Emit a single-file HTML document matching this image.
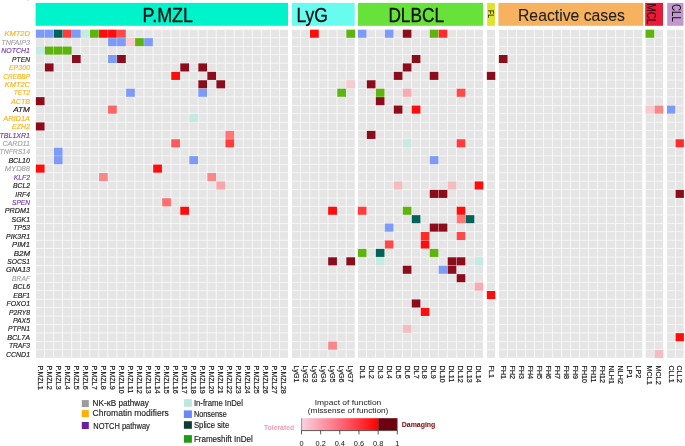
<!DOCTYPE html><html><head><meta charset="utf-8"><style>html,body{margin:0;padding:0;background:#fff;}svg{display:block;will-change:transform;}text{font-family:"Liberation Sans",sans-serif;}</style></head><body>
<svg width="685" height="446" viewBox="0 0 685 446">
<rect x="0" y="0" width="685" height="446" fill="#fff"/>
<defs><filter id="bl" x="-2%" y="-2%" width="104%" height="104%"><feGaussianBlur stdDeviation="0.2"/></filter></defs>
<g filter="url(#bl)">
<rect x="35.60" y="2.90" width="252.40" height="22.90" fill="#03f4cb"/>
<rect x="292.00" y="2.90" width="62.70" height="22.90" fill="#68fcf0"/>
<rect x="358.00" y="2.90" width="125.10" height="22.90" fill="#66e23a"/>
<rect x="487.10" y="2.90" width="7.80" height="22.90" fill="#dde22c"/>
<rect x="498.40" y="2.90" width="144.80" height="22.90" fill="#f6b25f"/>
<rect x="645.20" y="2.90" width="17.80" height="22.90" fill="#e61a38"/>
<rect x="667.20" y="2.90" width="16.30" height="22.90" fill="#c197cd"/>
<rect x="36.00" y="29.80" width="252.00" height="328.04" fill="#e5e5e5"/>
<rect x="44.23" y="29.80" width="0.80" height="328.04" fill="#fbfbfb"/>
<rect x="53.26" y="29.80" width="0.80" height="328.04" fill="#fbfbfb"/>
<rect x="62.29" y="29.80" width="0.80" height="328.04" fill="#fbfbfb"/>
<rect x="71.31" y="29.80" width="0.80" height="328.04" fill="#fbfbfb"/>
<rect x="80.34" y="29.80" width="0.80" height="328.04" fill="#fbfbfb"/>
<rect x="89.37" y="29.80" width="0.80" height="328.04" fill="#fbfbfb"/>
<rect x="98.40" y="29.80" width="0.80" height="328.04" fill="#fbfbfb"/>
<rect x="107.43" y="29.80" width="0.80" height="328.04" fill="#fbfbfb"/>
<rect x="116.46" y="29.80" width="0.80" height="328.04" fill="#fbfbfb"/>
<rect x="125.49" y="29.80" width="0.80" height="328.04" fill="#fbfbfb"/>
<rect x="134.51" y="29.80" width="0.80" height="328.04" fill="#fbfbfb"/>
<rect x="143.54" y="29.80" width="0.80" height="328.04" fill="#fbfbfb"/>
<rect x="152.57" y="29.80" width="0.80" height="328.04" fill="#fbfbfb"/>
<rect x="161.60" y="29.80" width="0.80" height="328.04" fill="#fbfbfb"/>
<rect x="170.63" y="29.80" width="0.80" height="328.04" fill="#fbfbfb"/>
<rect x="179.66" y="29.80" width="0.80" height="328.04" fill="#fbfbfb"/>
<rect x="188.69" y="29.80" width="0.80" height="328.04" fill="#fbfbfb"/>
<rect x="197.71" y="29.80" width="0.80" height="328.04" fill="#fbfbfb"/>
<rect x="206.74" y="29.80" width="0.80" height="328.04" fill="#fbfbfb"/>
<rect x="215.77" y="29.80" width="0.80" height="328.04" fill="#fbfbfb"/>
<rect x="224.80" y="29.80" width="0.80" height="328.04" fill="#fbfbfb"/>
<rect x="233.83" y="29.80" width="0.80" height="328.04" fill="#fbfbfb"/>
<rect x="242.86" y="29.80" width="0.80" height="328.04" fill="#fbfbfb"/>
<rect x="251.89" y="29.80" width="0.80" height="328.04" fill="#fbfbfb"/>
<rect x="260.91" y="29.80" width="0.80" height="328.04" fill="#fbfbfb"/>
<rect x="269.94" y="29.80" width="0.80" height="328.04" fill="#fbfbfb"/>
<rect x="278.97" y="29.80" width="0.80" height="328.04" fill="#fbfbfb"/>
<rect x="36.00" y="37.50" width="252.00" height="0.73" fill="#fbfbfb"/>
<rect x="36.00" y="45.93" width="252.00" height="0.73" fill="#fbfbfb"/>
<rect x="36.00" y="54.36" width="252.00" height="0.73" fill="#fbfbfb"/>
<rect x="36.00" y="62.79" width="252.00" height="0.73" fill="#fbfbfb"/>
<rect x="36.00" y="71.22" width="252.00" height="0.73" fill="#fbfbfb"/>
<rect x="36.00" y="79.65" width="252.00" height="0.73" fill="#fbfbfb"/>
<rect x="36.00" y="88.08" width="252.00" height="0.73" fill="#fbfbfb"/>
<rect x="36.00" y="96.51" width="252.00" height="0.73" fill="#fbfbfb"/>
<rect x="36.00" y="104.94" width="252.00" height="0.73" fill="#fbfbfb"/>
<rect x="36.00" y="113.37" width="252.00" height="0.73" fill="#fbfbfb"/>
<rect x="36.00" y="121.80" width="252.00" height="0.73" fill="#fbfbfb"/>
<rect x="36.00" y="130.23" width="252.00" height="0.73" fill="#fbfbfb"/>
<rect x="36.00" y="138.66" width="252.00" height="0.73" fill="#fbfbfb"/>
<rect x="36.00" y="147.09" width="252.00" height="0.73" fill="#fbfbfb"/>
<rect x="36.00" y="155.52" width="252.00" height="0.73" fill="#fbfbfb"/>
<rect x="36.00" y="163.95" width="252.00" height="0.73" fill="#fbfbfb"/>
<rect x="36.00" y="172.38" width="252.00" height="0.73" fill="#fbfbfb"/>
<rect x="36.00" y="180.81" width="252.00" height="0.73" fill="#fbfbfb"/>
<rect x="36.00" y="189.24" width="252.00" height="0.73" fill="#fbfbfb"/>
<rect x="36.00" y="197.67" width="252.00" height="0.73" fill="#fbfbfb"/>
<rect x="36.00" y="206.10" width="252.00" height="0.73" fill="#fbfbfb"/>
<rect x="36.00" y="214.53" width="252.00" height="0.73" fill="#fbfbfb"/>
<rect x="36.00" y="222.96" width="252.00" height="0.73" fill="#fbfbfb"/>
<rect x="36.00" y="231.39" width="252.00" height="0.73" fill="#fbfbfb"/>
<rect x="36.00" y="239.82" width="252.00" height="0.73" fill="#fbfbfb"/>
<rect x="36.00" y="248.25" width="252.00" height="0.73" fill="#fbfbfb"/>
<rect x="36.00" y="256.68" width="252.00" height="0.73" fill="#fbfbfb"/>
<rect x="36.00" y="265.11" width="252.00" height="0.73" fill="#fbfbfb"/>
<rect x="36.00" y="273.54" width="252.00" height="0.73" fill="#fbfbfb"/>
<rect x="36.00" y="281.97" width="252.00" height="0.73" fill="#fbfbfb"/>
<rect x="36.00" y="290.40" width="252.00" height="0.73" fill="#fbfbfb"/>
<rect x="36.00" y="298.83" width="252.00" height="0.73" fill="#fbfbfb"/>
<rect x="36.00" y="307.26" width="252.00" height="0.73" fill="#fbfbfb"/>
<rect x="36.00" y="315.69" width="252.00" height="0.73" fill="#fbfbfb"/>
<rect x="36.00" y="324.12" width="252.00" height="0.73" fill="#fbfbfb"/>
<rect x="36.00" y="332.55" width="252.00" height="0.73" fill="#fbfbfb"/>
<rect x="36.00" y="340.98" width="252.00" height="0.73" fill="#fbfbfb"/>
<rect x="36.00" y="349.41" width="252.00" height="0.73" fill="#fbfbfb"/>
<rect x="292.00" y="29.80" width="62.80" height="328.04" fill="#e5e5e5"/>
<rect x="300.29" y="29.80" width="0.80" height="328.04" fill="#fbfbfb"/>
<rect x="309.37" y="29.80" width="0.80" height="328.04" fill="#fbfbfb"/>
<rect x="318.46" y="29.80" width="0.80" height="328.04" fill="#fbfbfb"/>
<rect x="327.54" y="29.80" width="0.80" height="328.04" fill="#fbfbfb"/>
<rect x="336.63" y="29.80" width="0.80" height="328.04" fill="#fbfbfb"/>
<rect x="345.71" y="29.80" width="0.80" height="328.04" fill="#fbfbfb"/>
<rect x="292.00" y="37.50" width="62.80" height="0.73" fill="#fbfbfb"/>
<rect x="292.00" y="45.93" width="62.80" height="0.73" fill="#fbfbfb"/>
<rect x="292.00" y="54.36" width="62.80" height="0.73" fill="#fbfbfb"/>
<rect x="292.00" y="62.79" width="62.80" height="0.73" fill="#fbfbfb"/>
<rect x="292.00" y="71.22" width="62.80" height="0.73" fill="#fbfbfb"/>
<rect x="292.00" y="79.65" width="62.80" height="0.73" fill="#fbfbfb"/>
<rect x="292.00" y="88.08" width="62.80" height="0.73" fill="#fbfbfb"/>
<rect x="292.00" y="96.51" width="62.80" height="0.73" fill="#fbfbfb"/>
<rect x="292.00" y="104.94" width="62.80" height="0.73" fill="#fbfbfb"/>
<rect x="292.00" y="113.37" width="62.80" height="0.73" fill="#fbfbfb"/>
<rect x="292.00" y="121.80" width="62.80" height="0.73" fill="#fbfbfb"/>
<rect x="292.00" y="130.23" width="62.80" height="0.73" fill="#fbfbfb"/>
<rect x="292.00" y="138.66" width="62.80" height="0.73" fill="#fbfbfb"/>
<rect x="292.00" y="147.09" width="62.80" height="0.73" fill="#fbfbfb"/>
<rect x="292.00" y="155.52" width="62.80" height="0.73" fill="#fbfbfb"/>
<rect x="292.00" y="163.95" width="62.80" height="0.73" fill="#fbfbfb"/>
<rect x="292.00" y="172.38" width="62.80" height="0.73" fill="#fbfbfb"/>
<rect x="292.00" y="180.81" width="62.80" height="0.73" fill="#fbfbfb"/>
<rect x="292.00" y="189.24" width="62.80" height="0.73" fill="#fbfbfb"/>
<rect x="292.00" y="197.67" width="62.80" height="0.73" fill="#fbfbfb"/>
<rect x="292.00" y="206.10" width="62.80" height="0.73" fill="#fbfbfb"/>
<rect x="292.00" y="214.53" width="62.80" height="0.73" fill="#fbfbfb"/>
<rect x="292.00" y="222.96" width="62.80" height="0.73" fill="#fbfbfb"/>
<rect x="292.00" y="231.39" width="62.80" height="0.73" fill="#fbfbfb"/>
<rect x="292.00" y="239.82" width="62.80" height="0.73" fill="#fbfbfb"/>
<rect x="292.00" y="248.25" width="62.80" height="0.73" fill="#fbfbfb"/>
<rect x="292.00" y="256.68" width="62.80" height="0.73" fill="#fbfbfb"/>
<rect x="292.00" y="265.11" width="62.80" height="0.73" fill="#fbfbfb"/>
<rect x="292.00" y="273.54" width="62.80" height="0.73" fill="#fbfbfb"/>
<rect x="292.00" y="281.97" width="62.80" height="0.73" fill="#fbfbfb"/>
<rect x="292.00" y="290.40" width="62.80" height="0.73" fill="#fbfbfb"/>
<rect x="292.00" y="298.83" width="62.80" height="0.73" fill="#fbfbfb"/>
<rect x="292.00" y="307.26" width="62.80" height="0.73" fill="#fbfbfb"/>
<rect x="292.00" y="315.69" width="62.80" height="0.73" fill="#fbfbfb"/>
<rect x="292.00" y="324.12" width="62.80" height="0.73" fill="#fbfbfb"/>
<rect x="292.00" y="332.55" width="62.80" height="0.73" fill="#fbfbfb"/>
<rect x="292.00" y="340.98" width="62.80" height="0.73" fill="#fbfbfb"/>
<rect x="292.00" y="349.41" width="62.80" height="0.73" fill="#fbfbfb"/>
<rect x="358.00" y="29.80" width="125.00" height="328.04" fill="#e5e5e5"/>
<rect x="366.19" y="29.80" width="0.80" height="328.04" fill="#fbfbfb"/>
<rect x="375.17" y="29.80" width="0.80" height="328.04" fill="#fbfbfb"/>
<rect x="384.16" y="29.80" width="0.80" height="328.04" fill="#fbfbfb"/>
<rect x="393.14" y="29.80" width="0.80" height="328.04" fill="#fbfbfb"/>
<rect x="402.13" y="29.80" width="0.80" height="328.04" fill="#fbfbfb"/>
<rect x="411.11" y="29.80" width="0.80" height="328.04" fill="#fbfbfb"/>
<rect x="420.10" y="29.80" width="0.80" height="328.04" fill="#fbfbfb"/>
<rect x="429.09" y="29.80" width="0.80" height="328.04" fill="#fbfbfb"/>
<rect x="438.07" y="29.80" width="0.80" height="328.04" fill="#fbfbfb"/>
<rect x="447.06" y="29.80" width="0.80" height="328.04" fill="#fbfbfb"/>
<rect x="456.04" y="29.80" width="0.80" height="328.04" fill="#fbfbfb"/>
<rect x="465.03" y="29.80" width="0.80" height="328.04" fill="#fbfbfb"/>
<rect x="474.01" y="29.80" width="0.80" height="328.04" fill="#fbfbfb"/>
<rect x="358.00" y="37.50" width="125.00" height="0.73" fill="#fbfbfb"/>
<rect x="358.00" y="45.93" width="125.00" height="0.73" fill="#fbfbfb"/>
<rect x="358.00" y="54.36" width="125.00" height="0.73" fill="#fbfbfb"/>
<rect x="358.00" y="62.79" width="125.00" height="0.73" fill="#fbfbfb"/>
<rect x="358.00" y="71.22" width="125.00" height="0.73" fill="#fbfbfb"/>
<rect x="358.00" y="79.65" width="125.00" height="0.73" fill="#fbfbfb"/>
<rect x="358.00" y="88.08" width="125.00" height="0.73" fill="#fbfbfb"/>
<rect x="358.00" y="96.51" width="125.00" height="0.73" fill="#fbfbfb"/>
<rect x="358.00" y="104.94" width="125.00" height="0.73" fill="#fbfbfb"/>
<rect x="358.00" y="113.37" width="125.00" height="0.73" fill="#fbfbfb"/>
<rect x="358.00" y="121.80" width="125.00" height="0.73" fill="#fbfbfb"/>
<rect x="358.00" y="130.23" width="125.00" height="0.73" fill="#fbfbfb"/>
<rect x="358.00" y="138.66" width="125.00" height="0.73" fill="#fbfbfb"/>
<rect x="358.00" y="147.09" width="125.00" height="0.73" fill="#fbfbfb"/>
<rect x="358.00" y="155.52" width="125.00" height="0.73" fill="#fbfbfb"/>
<rect x="358.00" y="163.95" width="125.00" height="0.73" fill="#fbfbfb"/>
<rect x="358.00" y="172.38" width="125.00" height="0.73" fill="#fbfbfb"/>
<rect x="358.00" y="180.81" width="125.00" height="0.73" fill="#fbfbfb"/>
<rect x="358.00" y="189.24" width="125.00" height="0.73" fill="#fbfbfb"/>
<rect x="358.00" y="197.67" width="125.00" height="0.73" fill="#fbfbfb"/>
<rect x="358.00" y="206.10" width="125.00" height="0.73" fill="#fbfbfb"/>
<rect x="358.00" y="214.53" width="125.00" height="0.73" fill="#fbfbfb"/>
<rect x="358.00" y="222.96" width="125.00" height="0.73" fill="#fbfbfb"/>
<rect x="358.00" y="231.39" width="125.00" height="0.73" fill="#fbfbfb"/>
<rect x="358.00" y="239.82" width="125.00" height="0.73" fill="#fbfbfb"/>
<rect x="358.00" y="248.25" width="125.00" height="0.73" fill="#fbfbfb"/>
<rect x="358.00" y="256.68" width="125.00" height="0.73" fill="#fbfbfb"/>
<rect x="358.00" y="265.11" width="125.00" height="0.73" fill="#fbfbfb"/>
<rect x="358.00" y="273.54" width="125.00" height="0.73" fill="#fbfbfb"/>
<rect x="358.00" y="281.97" width="125.00" height="0.73" fill="#fbfbfb"/>
<rect x="358.00" y="290.40" width="125.00" height="0.73" fill="#fbfbfb"/>
<rect x="358.00" y="298.83" width="125.00" height="0.73" fill="#fbfbfb"/>
<rect x="358.00" y="307.26" width="125.00" height="0.73" fill="#fbfbfb"/>
<rect x="358.00" y="315.69" width="125.00" height="0.73" fill="#fbfbfb"/>
<rect x="358.00" y="324.12" width="125.00" height="0.73" fill="#fbfbfb"/>
<rect x="358.00" y="332.55" width="125.00" height="0.73" fill="#fbfbfb"/>
<rect x="358.00" y="340.98" width="125.00" height="0.73" fill="#fbfbfb"/>
<rect x="358.00" y="349.41" width="125.00" height="0.73" fill="#fbfbfb"/>
<rect x="487.00" y="29.80" width="8.00" height="328.04" fill="#e5e5e5"/>
<rect x="487.00" y="37.50" width="8.00" height="0.73" fill="#fbfbfb"/>
<rect x="487.00" y="45.93" width="8.00" height="0.73" fill="#fbfbfb"/>
<rect x="487.00" y="54.36" width="8.00" height="0.73" fill="#fbfbfb"/>
<rect x="487.00" y="62.79" width="8.00" height="0.73" fill="#fbfbfb"/>
<rect x="487.00" y="71.22" width="8.00" height="0.73" fill="#fbfbfb"/>
<rect x="487.00" y="79.65" width="8.00" height="0.73" fill="#fbfbfb"/>
<rect x="487.00" y="88.08" width="8.00" height="0.73" fill="#fbfbfb"/>
<rect x="487.00" y="96.51" width="8.00" height="0.73" fill="#fbfbfb"/>
<rect x="487.00" y="104.94" width="8.00" height="0.73" fill="#fbfbfb"/>
<rect x="487.00" y="113.37" width="8.00" height="0.73" fill="#fbfbfb"/>
<rect x="487.00" y="121.80" width="8.00" height="0.73" fill="#fbfbfb"/>
<rect x="487.00" y="130.23" width="8.00" height="0.73" fill="#fbfbfb"/>
<rect x="487.00" y="138.66" width="8.00" height="0.73" fill="#fbfbfb"/>
<rect x="487.00" y="147.09" width="8.00" height="0.73" fill="#fbfbfb"/>
<rect x="487.00" y="155.52" width="8.00" height="0.73" fill="#fbfbfb"/>
<rect x="487.00" y="163.95" width="8.00" height="0.73" fill="#fbfbfb"/>
<rect x="487.00" y="172.38" width="8.00" height="0.73" fill="#fbfbfb"/>
<rect x="487.00" y="180.81" width="8.00" height="0.73" fill="#fbfbfb"/>
<rect x="487.00" y="189.24" width="8.00" height="0.73" fill="#fbfbfb"/>
<rect x="487.00" y="197.67" width="8.00" height="0.73" fill="#fbfbfb"/>
<rect x="487.00" y="206.10" width="8.00" height="0.73" fill="#fbfbfb"/>
<rect x="487.00" y="214.53" width="8.00" height="0.73" fill="#fbfbfb"/>
<rect x="487.00" y="222.96" width="8.00" height="0.73" fill="#fbfbfb"/>
<rect x="487.00" y="231.39" width="8.00" height="0.73" fill="#fbfbfb"/>
<rect x="487.00" y="239.82" width="8.00" height="0.73" fill="#fbfbfb"/>
<rect x="487.00" y="248.25" width="8.00" height="0.73" fill="#fbfbfb"/>
<rect x="487.00" y="256.68" width="8.00" height="0.73" fill="#fbfbfb"/>
<rect x="487.00" y="265.11" width="8.00" height="0.73" fill="#fbfbfb"/>
<rect x="487.00" y="273.54" width="8.00" height="0.73" fill="#fbfbfb"/>
<rect x="487.00" y="281.97" width="8.00" height="0.73" fill="#fbfbfb"/>
<rect x="487.00" y="290.40" width="8.00" height="0.73" fill="#fbfbfb"/>
<rect x="487.00" y="298.83" width="8.00" height="0.73" fill="#fbfbfb"/>
<rect x="487.00" y="307.26" width="8.00" height="0.73" fill="#fbfbfb"/>
<rect x="487.00" y="315.69" width="8.00" height="0.73" fill="#fbfbfb"/>
<rect x="487.00" y="324.12" width="8.00" height="0.73" fill="#fbfbfb"/>
<rect x="487.00" y="332.55" width="8.00" height="0.73" fill="#fbfbfb"/>
<rect x="487.00" y="340.98" width="8.00" height="0.73" fill="#fbfbfb"/>
<rect x="487.00" y="349.41" width="8.00" height="0.73" fill="#fbfbfb"/>
<rect x="499.00" y="29.80" width="143.30" height="328.04" fill="#e5e5e5"/>
<rect x="507.21" y="29.80" width="0.80" height="328.04" fill="#fbfbfb"/>
<rect x="516.21" y="29.80" width="0.80" height="328.04" fill="#fbfbfb"/>
<rect x="525.22" y="29.80" width="0.80" height="328.04" fill="#fbfbfb"/>
<rect x="534.22" y="29.80" width="0.80" height="328.04" fill="#fbfbfb"/>
<rect x="543.23" y="29.80" width="0.80" height="328.04" fill="#fbfbfb"/>
<rect x="552.24" y="29.80" width="0.80" height="328.04" fill="#fbfbfb"/>
<rect x="561.24" y="29.80" width="0.80" height="328.04" fill="#fbfbfb"/>
<rect x="570.25" y="29.80" width="0.80" height="328.04" fill="#fbfbfb"/>
<rect x="579.26" y="29.80" width="0.80" height="328.04" fill="#fbfbfb"/>
<rect x="588.26" y="29.80" width="0.80" height="328.04" fill="#fbfbfb"/>
<rect x="597.27" y="29.80" width="0.80" height="328.04" fill="#fbfbfb"/>
<rect x="606.27" y="29.80" width="0.80" height="328.04" fill="#fbfbfb"/>
<rect x="615.28" y="29.80" width="0.80" height="328.04" fill="#fbfbfb"/>
<rect x="624.29" y="29.80" width="0.80" height="328.04" fill="#fbfbfb"/>
<rect x="633.29" y="29.80" width="0.80" height="328.04" fill="#fbfbfb"/>
<rect x="499.00" y="37.50" width="143.30" height="0.73" fill="#fbfbfb"/>
<rect x="499.00" y="45.93" width="143.30" height="0.73" fill="#fbfbfb"/>
<rect x="499.00" y="54.36" width="143.30" height="0.73" fill="#fbfbfb"/>
<rect x="499.00" y="62.79" width="143.30" height="0.73" fill="#fbfbfb"/>
<rect x="499.00" y="71.22" width="143.30" height="0.73" fill="#fbfbfb"/>
<rect x="499.00" y="79.65" width="143.30" height="0.73" fill="#fbfbfb"/>
<rect x="499.00" y="88.08" width="143.30" height="0.73" fill="#fbfbfb"/>
<rect x="499.00" y="96.51" width="143.30" height="0.73" fill="#fbfbfb"/>
<rect x="499.00" y="104.94" width="143.30" height="0.73" fill="#fbfbfb"/>
<rect x="499.00" y="113.37" width="143.30" height="0.73" fill="#fbfbfb"/>
<rect x="499.00" y="121.80" width="143.30" height="0.73" fill="#fbfbfb"/>
<rect x="499.00" y="130.23" width="143.30" height="0.73" fill="#fbfbfb"/>
<rect x="499.00" y="138.66" width="143.30" height="0.73" fill="#fbfbfb"/>
<rect x="499.00" y="147.09" width="143.30" height="0.73" fill="#fbfbfb"/>
<rect x="499.00" y="155.52" width="143.30" height="0.73" fill="#fbfbfb"/>
<rect x="499.00" y="163.95" width="143.30" height="0.73" fill="#fbfbfb"/>
<rect x="499.00" y="172.38" width="143.30" height="0.73" fill="#fbfbfb"/>
<rect x="499.00" y="180.81" width="143.30" height="0.73" fill="#fbfbfb"/>
<rect x="499.00" y="189.24" width="143.30" height="0.73" fill="#fbfbfb"/>
<rect x="499.00" y="197.67" width="143.30" height="0.73" fill="#fbfbfb"/>
<rect x="499.00" y="206.10" width="143.30" height="0.73" fill="#fbfbfb"/>
<rect x="499.00" y="214.53" width="143.30" height="0.73" fill="#fbfbfb"/>
<rect x="499.00" y="222.96" width="143.30" height="0.73" fill="#fbfbfb"/>
<rect x="499.00" y="231.39" width="143.30" height="0.73" fill="#fbfbfb"/>
<rect x="499.00" y="239.82" width="143.30" height="0.73" fill="#fbfbfb"/>
<rect x="499.00" y="248.25" width="143.30" height="0.73" fill="#fbfbfb"/>
<rect x="499.00" y="256.68" width="143.30" height="0.73" fill="#fbfbfb"/>
<rect x="499.00" y="265.11" width="143.30" height="0.73" fill="#fbfbfb"/>
<rect x="499.00" y="273.54" width="143.30" height="0.73" fill="#fbfbfb"/>
<rect x="499.00" y="281.97" width="143.30" height="0.73" fill="#fbfbfb"/>
<rect x="499.00" y="290.40" width="143.30" height="0.73" fill="#fbfbfb"/>
<rect x="499.00" y="298.83" width="143.30" height="0.73" fill="#fbfbfb"/>
<rect x="499.00" y="307.26" width="143.30" height="0.73" fill="#fbfbfb"/>
<rect x="499.00" y="315.69" width="143.30" height="0.73" fill="#fbfbfb"/>
<rect x="499.00" y="324.12" width="143.30" height="0.73" fill="#fbfbfb"/>
<rect x="499.00" y="332.55" width="143.30" height="0.73" fill="#fbfbfb"/>
<rect x="499.00" y="340.98" width="143.30" height="0.73" fill="#fbfbfb"/>
<rect x="499.00" y="349.41" width="143.30" height="0.73" fill="#fbfbfb"/>
<rect x="645.70" y="29.80" width="17.30" height="328.04" fill="#e5e5e5"/>
<rect x="653.95" y="29.80" width="0.80" height="328.04" fill="#fbfbfb"/>
<rect x="645.70" y="37.50" width="17.30" height="0.73" fill="#fbfbfb"/>
<rect x="645.70" y="45.93" width="17.30" height="0.73" fill="#fbfbfb"/>
<rect x="645.70" y="54.36" width="17.30" height="0.73" fill="#fbfbfb"/>
<rect x="645.70" y="62.79" width="17.30" height="0.73" fill="#fbfbfb"/>
<rect x="645.70" y="71.22" width="17.30" height="0.73" fill="#fbfbfb"/>
<rect x="645.70" y="79.65" width="17.30" height="0.73" fill="#fbfbfb"/>
<rect x="645.70" y="88.08" width="17.30" height="0.73" fill="#fbfbfb"/>
<rect x="645.70" y="96.51" width="17.30" height="0.73" fill="#fbfbfb"/>
<rect x="645.70" y="104.94" width="17.30" height="0.73" fill="#fbfbfb"/>
<rect x="645.70" y="113.37" width="17.30" height="0.73" fill="#fbfbfb"/>
<rect x="645.70" y="121.80" width="17.30" height="0.73" fill="#fbfbfb"/>
<rect x="645.70" y="130.23" width="17.30" height="0.73" fill="#fbfbfb"/>
<rect x="645.70" y="138.66" width="17.30" height="0.73" fill="#fbfbfb"/>
<rect x="645.70" y="147.09" width="17.30" height="0.73" fill="#fbfbfb"/>
<rect x="645.70" y="155.52" width="17.30" height="0.73" fill="#fbfbfb"/>
<rect x="645.70" y="163.95" width="17.30" height="0.73" fill="#fbfbfb"/>
<rect x="645.70" y="172.38" width="17.30" height="0.73" fill="#fbfbfb"/>
<rect x="645.70" y="180.81" width="17.30" height="0.73" fill="#fbfbfb"/>
<rect x="645.70" y="189.24" width="17.30" height="0.73" fill="#fbfbfb"/>
<rect x="645.70" y="197.67" width="17.30" height="0.73" fill="#fbfbfb"/>
<rect x="645.70" y="206.10" width="17.30" height="0.73" fill="#fbfbfb"/>
<rect x="645.70" y="214.53" width="17.30" height="0.73" fill="#fbfbfb"/>
<rect x="645.70" y="222.96" width="17.30" height="0.73" fill="#fbfbfb"/>
<rect x="645.70" y="231.39" width="17.30" height="0.73" fill="#fbfbfb"/>
<rect x="645.70" y="239.82" width="17.30" height="0.73" fill="#fbfbfb"/>
<rect x="645.70" y="248.25" width="17.30" height="0.73" fill="#fbfbfb"/>
<rect x="645.70" y="256.68" width="17.30" height="0.73" fill="#fbfbfb"/>
<rect x="645.70" y="265.11" width="17.30" height="0.73" fill="#fbfbfb"/>
<rect x="645.70" y="273.54" width="17.30" height="0.73" fill="#fbfbfb"/>
<rect x="645.70" y="281.97" width="17.30" height="0.73" fill="#fbfbfb"/>
<rect x="645.70" y="290.40" width="17.30" height="0.73" fill="#fbfbfb"/>
<rect x="645.70" y="298.83" width="17.30" height="0.73" fill="#fbfbfb"/>
<rect x="645.70" y="307.26" width="17.30" height="0.73" fill="#fbfbfb"/>
<rect x="645.70" y="315.69" width="17.30" height="0.73" fill="#fbfbfb"/>
<rect x="645.70" y="324.12" width="17.30" height="0.73" fill="#fbfbfb"/>
<rect x="645.70" y="332.55" width="17.30" height="0.73" fill="#fbfbfb"/>
<rect x="645.70" y="340.98" width="17.30" height="0.73" fill="#fbfbfb"/>
<rect x="645.70" y="349.41" width="17.30" height="0.73" fill="#fbfbfb"/>
<rect x="667.10" y="29.80" width="16.50" height="328.04" fill="#e5e5e5"/>
<rect x="674.95" y="29.80" width="0.80" height="328.04" fill="#fbfbfb"/>
<rect x="667.10" y="37.50" width="16.50" height="0.73" fill="#fbfbfb"/>
<rect x="667.10" y="45.93" width="16.50" height="0.73" fill="#fbfbfb"/>
<rect x="667.10" y="54.36" width="16.50" height="0.73" fill="#fbfbfb"/>
<rect x="667.10" y="62.79" width="16.50" height="0.73" fill="#fbfbfb"/>
<rect x="667.10" y="71.22" width="16.50" height="0.73" fill="#fbfbfb"/>
<rect x="667.10" y="79.65" width="16.50" height="0.73" fill="#fbfbfb"/>
<rect x="667.10" y="88.08" width="16.50" height="0.73" fill="#fbfbfb"/>
<rect x="667.10" y="96.51" width="16.50" height="0.73" fill="#fbfbfb"/>
<rect x="667.10" y="104.94" width="16.50" height="0.73" fill="#fbfbfb"/>
<rect x="667.10" y="113.37" width="16.50" height="0.73" fill="#fbfbfb"/>
<rect x="667.10" y="121.80" width="16.50" height="0.73" fill="#fbfbfb"/>
<rect x="667.10" y="130.23" width="16.50" height="0.73" fill="#fbfbfb"/>
<rect x="667.10" y="138.66" width="16.50" height="0.73" fill="#fbfbfb"/>
<rect x="667.10" y="147.09" width="16.50" height="0.73" fill="#fbfbfb"/>
<rect x="667.10" y="155.52" width="16.50" height="0.73" fill="#fbfbfb"/>
<rect x="667.10" y="163.95" width="16.50" height="0.73" fill="#fbfbfb"/>
<rect x="667.10" y="172.38" width="16.50" height="0.73" fill="#fbfbfb"/>
<rect x="667.10" y="180.81" width="16.50" height="0.73" fill="#fbfbfb"/>
<rect x="667.10" y="189.24" width="16.50" height="0.73" fill="#fbfbfb"/>
<rect x="667.10" y="197.67" width="16.50" height="0.73" fill="#fbfbfb"/>
<rect x="667.10" y="206.10" width="16.50" height="0.73" fill="#fbfbfb"/>
<rect x="667.10" y="214.53" width="16.50" height="0.73" fill="#fbfbfb"/>
<rect x="667.10" y="222.96" width="16.50" height="0.73" fill="#fbfbfb"/>
<rect x="667.10" y="231.39" width="16.50" height="0.73" fill="#fbfbfb"/>
<rect x="667.10" y="239.82" width="16.50" height="0.73" fill="#fbfbfb"/>
<rect x="667.10" y="248.25" width="16.50" height="0.73" fill="#fbfbfb"/>
<rect x="667.10" y="256.68" width="16.50" height="0.73" fill="#fbfbfb"/>
<rect x="667.10" y="265.11" width="16.50" height="0.73" fill="#fbfbfb"/>
<rect x="667.10" y="273.54" width="16.50" height="0.73" fill="#fbfbfb"/>
<rect x="667.10" y="281.97" width="16.50" height="0.73" fill="#fbfbfb"/>
<rect x="667.10" y="290.40" width="16.50" height="0.73" fill="#fbfbfb"/>
<rect x="667.10" y="298.83" width="16.50" height="0.73" fill="#fbfbfb"/>
<rect x="667.10" y="307.26" width="16.50" height="0.73" fill="#fbfbfb"/>
<rect x="667.10" y="315.69" width="16.50" height="0.73" fill="#fbfbfb"/>
<rect x="667.10" y="324.12" width="16.50" height="0.73" fill="#fbfbfb"/>
<rect x="667.10" y="332.55" width="16.50" height="0.73" fill="#fbfbfb"/>
<rect x="667.10" y="340.98" width="16.50" height="0.73" fill="#fbfbfb"/>
<rect x="667.10" y="349.41" width="16.50" height="0.73" fill="#fbfbfb"/>
<rect x="35.85" y="29.70" width="8.68" height="8.05" fill="#7d9bf6"/>
<rect x="44.88" y="29.70" width="8.68" height="8.05" fill="#7d9bf6"/>
<rect x="53.91" y="29.70" width="8.68" height="8.05" fill="#06645a"/>
<rect x="62.94" y="29.70" width="8.68" height="8.05" fill="#ff3a3a"/>
<rect x="71.96" y="29.70" width="8.68" height="8.05" fill="#7d9bf6"/>
<rect x="80.99" y="29.70" width="8.68" height="8.05" fill="#c4eae2"/>
<rect x="90.02" y="29.70" width="8.68" height="8.05" fill="#5db40c"/>
<rect x="99.05" y="29.70" width="8.68" height="8.05" fill="#ff0808"/>
<rect x="108.08" y="29.70" width="8.68" height="8.05" fill="#ff0808"/>
<rect x="117.11" y="29.70" width="8.68" height="8.05" fill="#ff4848"/>
<rect x="108.08" y="38.13" width="8.68" height="8.05" fill="#7d9bf6"/>
<rect x="117.11" y="38.13" width="8.68" height="8.05" fill="#7d9bf6"/>
<rect x="126.14" y="38.13" width="8.68" height="8.05" fill="#f7cacd"/>
<rect x="135.16" y="38.13" width="8.68" height="8.05" fill="#5db40c"/>
<rect x="144.19" y="38.13" width="8.68" height="8.05" fill="#7d9bf6"/>
<rect x="35.85" y="46.56" width="8.68" height="8.05" fill="#c4eae2"/>
<rect x="44.88" y="46.56" width="8.68" height="8.05" fill="#5db40c"/>
<rect x="53.91" y="46.56" width="8.68" height="8.05" fill="#5db40c"/>
<rect x="62.94" y="46.56" width="8.68" height="8.05" fill="#5db40c"/>
<rect x="71.96" y="54.99" width="8.68" height="8.05" fill="#8b0b1d"/>
<rect x="108.08" y="54.99" width="8.68" height="8.05" fill="#7d9bf6"/>
<rect x="117.11" y="54.99" width="8.68" height="8.05" fill="#8b0b1d"/>
<rect x="44.88" y="63.42" width="8.68" height="8.05" fill="#8b0b1d"/>
<rect x="180.31" y="63.42" width="8.68" height="8.05" fill="#8b0b1d"/>
<rect x="198.36" y="63.42" width="8.68" height="8.05" fill="#8b0b1d"/>
<rect x="171.28" y="71.85" width="8.68" height="8.05" fill="#ff0808"/>
<rect x="207.39" y="71.85" width="8.68" height="8.05" fill="#8b0b1d"/>
<rect x="198.36" y="80.28" width="8.68" height="8.05" fill="#8b0b1d"/>
<rect x="216.42" y="80.28" width="8.68" height="8.05" fill="#8b0b1d"/>
<rect x="126.14" y="88.71" width="8.68" height="8.05" fill="#7d9bf6"/>
<rect x="198.36" y="88.71" width="8.68" height="8.05" fill="#7d9bf6"/>
<rect x="35.85" y="97.14" width="8.68" height="8.05" fill="#8b0b1d"/>
<rect x="108.08" y="105.57" width="8.68" height="8.05" fill="#ff6262"/>
<rect x="189.34" y="114.00" width="8.68" height="8.05" fill="#c4eae2"/>
<rect x="35.85" y="122.43" width="8.68" height="8.05" fill="#8b0b1d"/>
<rect x="225.45" y="130.86" width="8.68" height="8.05" fill="#ff7474"/>
<rect x="171.28" y="139.29" width="8.68" height="8.05" fill="#ff5858"/>
<rect x="225.45" y="139.29" width="8.68" height="8.05" fill="#ff3a3a"/>
<rect x="53.91" y="147.72" width="8.68" height="8.05" fill="#7d9bf6"/>
<rect x="53.91" y="156.15" width="8.68" height="8.05" fill="#7d9bf6"/>
<rect x="189.34" y="156.15" width="8.68" height="8.05" fill="#7d9bf6"/>
<rect x="35.85" y="164.58" width="8.68" height="8.05" fill="#ff0808"/>
<rect x="153.22" y="164.58" width="8.68" height="8.05" fill="#ff0808"/>
<rect x="99.05" y="173.01" width="8.68" height="8.05" fill="#f88888"/>
<rect x="207.39" y="173.01" width="8.68" height="8.05" fill="#f88888"/>
<rect x="216.42" y="181.44" width="8.68" height="8.05" fill="#f8a4aa"/>
<rect x="162.25" y="198.30" width="8.68" height="8.05" fill="#ff6c6c"/>
<rect x="180.31" y="206.73" width="8.68" height="8.05" fill="#ff0808"/>
<rect x="310.02" y="29.70" width="8.74" height="8.05" fill="#ff0808"/>
<rect x="346.36" y="29.70" width="8.74" height="8.05" fill="#5db40c"/>
<rect x="346.36" y="80.28" width="8.74" height="8.05" fill="#f7cacd"/>
<rect x="337.28" y="88.71" width="8.74" height="8.05" fill="#5db40c"/>
<rect x="328.19" y="206.73" width="8.74" height="8.05" fill="#ff0808"/>
<rect x="328.19" y="257.31" width="8.74" height="8.05" fill="#8b0b1d"/>
<rect x="346.36" y="257.31" width="8.74" height="8.05" fill="#8b0b1d"/>
<rect x="328.19" y="341.61" width="8.74" height="8.05" fill="#f88888"/>
<rect x="357.85" y="29.70" width="8.64" height="8.05" fill="#7d9bf6"/>
<rect x="384.81" y="29.70" width="8.64" height="8.05" fill="#7d9bf6"/>
<rect x="402.78" y="29.70" width="8.64" height="8.05" fill="#8b0b1d"/>
<rect x="429.74" y="29.70" width="8.64" height="8.05" fill="#5db40c"/>
<rect x="438.72" y="29.70" width="8.64" height="8.05" fill="#ff2c2c"/>
<rect x="411.76" y="54.99" width="8.64" height="8.05" fill="#8b0b1d"/>
<rect x="402.78" y="63.42" width="8.64" height="8.05" fill="#8b0b1d"/>
<rect x="393.79" y="71.85" width="8.64" height="8.05" fill="#8b0b1d"/>
<rect x="429.74" y="71.85" width="8.64" height="8.05" fill="#8b0b1d"/>
<rect x="366.84" y="80.28" width="8.64" height="8.05" fill="#8b0b1d"/>
<rect x="375.82" y="88.71" width="8.64" height="8.05" fill="#5db40c"/>
<rect x="402.78" y="88.71" width="8.64" height="8.05" fill="#f7aab2"/>
<rect x="456.69" y="88.71" width="8.64" height="8.05" fill="#ff4848"/>
<rect x="375.82" y="97.14" width="8.64" height="8.05" fill="#8b0b1d"/>
<rect x="393.79" y="105.57" width="8.64" height="8.05" fill="#8b0b1d"/>
<rect x="411.76" y="105.57" width="8.64" height="8.05" fill="#ff0808"/>
<rect x="366.84" y="130.86" width="8.64" height="8.05" fill="#8b0b1d"/>
<rect x="402.78" y="139.29" width="8.64" height="8.05" fill="#c4eae2"/>
<rect x="456.69" y="139.29" width="8.64" height="8.05" fill="#ff3a3a"/>
<rect x="429.74" y="156.15" width="8.64" height="8.05" fill="#7d9bf6"/>
<rect x="393.79" y="181.44" width="8.64" height="8.05" fill="#f5bcc0"/>
<rect x="447.71" y="181.44" width="8.64" height="8.05" fill="#f5bcc0"/>
<rect x="474.66" y="181.44" width="8.64" height="8.05" fill="#ff0808"/>
<rect x="429.74" y="189.87" width="8.64" height="8.05" fill="#8b0b1d"/>
<rect x="438.72" y="189.87" width="8.64" height="8.05" fill="#8b0b1d"/>
<rect x="357.85" y="206.73" width="8.64" height="8.05" fill="#ff3a3a"/>
<rect x="402.78" y="206.73" width="8.64" height="8.05" fill="#5db40c"/>
<rect x="456.69" y="206.73" width="8.64" height="8.05" fill="#ff0808"/>
<rect x="411.76" y="215.16" width="8.64" height="8.05" fill="#06645a"/>
<rect x="456.69" y="215.16" width="8.64" height="8.05" fill="#ff7474"/>
<rect x="465.68" y="215.16" width="8.64" height="8.05" fill="#06645a"/>
<rect x="384.81" y="223.59" width="8.64" height="8.05" fill="#7d9bf6"/>
<rect x="429.74" y="223.59" width="8.64" height="8.05" fill="#8b0b1d"/>
<rect x="438.72" y="223.59" width="8.64" height="8.05" fill="#8b0b1d"/>
<rect x="420.75" y="232.02" width="8.64" height="8.05" fill="#ff2c2c"/>
<rect x="456.69" y="232.02" width="8.64" height="8.05" fill="#ff4848"/>
<rect x="384.81" y="240.45" width="8.64" height="8.05" fill="#ff4848"/>
<rect x="420.75" y="240.45" width="8.64" height="8.05" fill="#ff0808"/>
<rect x="357.85" y="248.88" width="8.64" height="8.05" fill="#5db40c"/>
<rect x="375.82" y="248.88" width="8.64" height="8.05" fill="#06645a"/>
<rect x="429.74" y="248.88" width="8.64" height="8.05" fill="#5db40c"/>
<rect x="375.82" y="257.31" width="8.64" height="8.05" fill="#c4eae2"/>
<rect x="447.71" y="257.31" width="8.64" height="8.05" fill="#8b0b1d"/>
<rect x="456.69" y="257.31" width="8.64" height="8.05" fill="#8b0b1d"/>
<rect x="474.66" y="257.31" width="8.64" height="8.05" fill="#c4eae2"/>
<rect x="402.78" y="265.74" width="8.64" height="8.05" fill="#8b0b1d"/>
<rect x="438.72" y="265.74" width="8.64" height="8.05" fill="#7d9bf6"/>
<rect x="447.71" y="265.74" width="8.64" height="8.05" fill="#8b0b1d"/>
<rect x="456.69" y="274.17" width="8.64" height="8.05" fill="#8b0b1d"/>
<rect x="474.66" y="282.60" width="8.64" height="8.05" fill="#f7aab2"/>
<rect x="411.76" y="299.46" width="8.64" height="8.05" fill="#8b0b1d"/>
<rect x="420.75" y="307.89" width="8.64" height="8.05" fill="#ff0808"/>
<rect x="402.78" y="324.75" width="8.64" height="8.05" fill="#f5bcc0"/>
<rect x="486.85" y="71.85" width="8.45" height="8.05" fill="#8b0b1d"/>
<rect x="486.85" y="291.03" width="8.45" height="8.05" fill="#ff0808"/>
<rect x="498.85" y="54.99" width="8.66" height="8.05" fill="#8b0b1d"/>
<rect x="645.55" y="29.70" width="8.70" height="8.05" fill="#5db40c"/>
<rect x="645.55" y="105.57" width="8.70" height="8.05" fill="#f7cacd"/>
<rect x="654.60" y="105.57" width="8.70" height="8.05" fill="#f88888"/>
<rect x="654.60" y="350.04" width="8.70" height="8.05" fill="#f5bcc0"/>
<rect x="666.95" y="105.57" width="8.30" height="8.05" fill="#7d9bf6"/>
<rect x="675.60" y="139.29" width="8.30" height="8.05" fill="#ff2c2c"/>
<rect x="675.60" y="189.87" width="8.30" height="8.05" fill="#8b0b1d"/>
<rect x="675.60" y="333.18" width="8.30" height="8.05" fill="#ff0808"/>
</g>
<text x="142.60" y="21.60" font-size="19.80" fill="#111" stroke="#111" stroke-width="0.30" textLength="50.40" lengthAdjust="spacingAndGlyphs">P.MZL</text>
<text x="296.50" y="21.70" font-size="19.80" fill="#111" stroke="#111" stroke-width="0.30" textLength="31.50" lengthAdjust="spacingAndGlyphs">LyG</text>
<text x="388.40" y="21.70" font-size="19.80" fill="#111" stroke="#111" stroke-width="0.30" textLength="55.60" lengthAdjust="spacingAndGlyphs">DLBCL</text>
<text x="518.00" y="20.50" font-size="16.60" fill="#222" stroke="#222" stroke-width="0.10" textLength="106.80" lengthAdjust="spacingAndGlyphs">Reactive cases</text>
<text transform="translate(488.00,10.10) rotate(90)" x="0" y="0" font-size="8.60" fill="#111" textLength="7.70" lengthAdjust="spacingAndGlyphs">FL</text>
<text transform="translate(647.40,3.60) rotate(90)" x="0" y="0" font-size="11.90" fill="#1a0508" textLength="20.60" lengthAdjust="spacingAndGlyphs">MCL</text>
<text transform="translate(672.00,4.00) rotate(90)" x="0" y="0" font-size="12.20" fill="#111" textLength="17.90" lengthAdjust="spacingAndGlyphs">CLL</text>
<text x="4.50" y="36.35" font-size="7.6" font-style="italic" fill="#f9b31e" stroke="#f9b31e" stroke-width="0.17" textLength="25.50" lengthAdjust="spacingAndGlyphs">KMT2D</text>
<text x="1.30" y="44.78" font-size="7.6" font-style="italic" fill="#a5a5a5" stroke="#a5a5a5" stroke-width="0.17" textLength="28.70" lengthAdjust="spacingAndGlyphs">TNFAIP3</text>
<text x="1.30" y="53.21" font-size="7.6" font-style="italic" fill="#7838b0" stroke="#7838b0" stroke-width="0.17" textLength="28.70" lengthAdjust="spacingAndGlyphs">NOTCH1</text>
<text x="12.10" y="61.64" font-size="7.6" font-style="italic" fill="#1c1c1c" stroke="#1c1c1c" stroke-width="0.17" textLength="17.90" lengthAdjust="spacingAndGlyphs">PTEN</text>
<text x="8.90" y="70.07" font-size="7.6" font-style="italic" fill="#f9b31e" stroke="#f9b31e" stroke-width="0.17" textLength="21.10" lengthAdjust="spacingAndGlyphs">EP300</text>
<text x="3.20" y="78.50" font-size="7.6" font-style="italic" fill="#f9b31e" stroke="#f9b31e" stroke-width="0.17" textLength="26.80" lengthAdjust="spacingAndGlyphs">CREBBP</text>
<text x="4.80" y="86.93" font-size="7.6" font-style="italic" fill="#f9b31e" stroke="#f9b31e" stroke-width="0.17" textLength="25.20" lengthAdjust="spacingAndGlyphs">KMT2C</text>
<text x="13.70" y="95.36" font-size="7.6" font-style="italic" fill="#f9b31e" stroke="#f9b31e" stroke-width="0.17" textLength="16.30" lengthAdjust="spacingAndGlyphs">TET2</text>
<text x="11.00" y="103.79" font-size="7.6" font-style="italic" fill="#f9b31e" stroke="#f9b31e" stroke-width="0.17" textLength="19.00" lengthAdjust="spacingAndGlyphs">ACTB</text>
<text x="13.20" y="112.22" font-size="7.6" font-style="italic" fill="#1c1c1c" stroke="#1c1c1c" stroke-width="0.17" textLength="16.80" lengthAdjust="spacingAndGlyphs">ATM</text>
<text x="3.20" y="120.65" font-size="7.6" font-style="italic" fill="#f9b31e" stroke="#f9b31e" stroke-width="0.17" textLength="26.80" lengthAdjust="spacingAndGlyphs">ARID1A</text>
<text x="12.10" y="129.08" font-size="7.6" font-style="italic" fill="#f9b31e" stroke="#f9b31e" stroke-width="0.17" textLength="17.90" lengthAdjust="spacingAndGlyphs">EZH2</text>
<text x="-0.50" y="137.51" font-size="7.6" font-style="italic" fill="#7838b0" stroke="#7838b0" stroke-width="0.17" textLength="30.50" lengthAdjust="spacingAndGlyphs">TBL1XR1</text>
<text x="2.40" y="145.94" font-size="7.6" font-style="italic" fill="#a5a5a5" stroke="#a5a5a5" stroke-width="0.17" textLength="27.60" lengthAdjust="spacingAndGlyphs">CARD11</text>
<text x="-0.50" y="154.37" font-size="7.6" font-style="italic" fill="#a5a5a5" stroke="#a5a5a5" stroke-width="0.17" textLength="30.50" lengthAdjust="spacingAndGlyphs">TNFRS14</text>
<text x="8.40" y="162.80" font-size="7.6" font-style="italic" fill="#1c1c1c" stroke="#1c1c1c" stroke-width="0.17" textLength="21.60" lengthAdjust="spacingAndGlyphs">BCL10</text>
<text x="4.80" y="171.23" font-size="7.6" font-style="italic" fill="#a5a5a5" stroke="#a5a5a5" stroke-width="0.17" textLength="25.20" lengthAdjust="spacingAndGlyphs">MYD88</text>
<text x="13.70" y="179.66" font-size="7.6" font-style="italic" fill="#7838b0" stroke="#7838b0" stroke-width="0.17" textLength="16.30" lengthAdjust="spacingAndGlyphs">KLF2</text>
<text x="12.90" y="188.09" font-size="7.6" font-style="italic" fill="#1c1c1c" stroke="#1c1c1c" stroke-width="0.17" textLength="17.10" lengthAdjust="spacingAndGlyphs">BCL2</text>
<text x="15.30" y="196.52" font-size="7.6" font-style="italic" fill="#1c1c1c" stroke="#1c1c1c" stroke-width="0.17" textLength="14.70" lengthAdjust="spacingAndGlyphs">IRF4</text>
<text x="12.10" y="204.95" font-size="7.6" font-style="italic" fill="#7838b0" stroke="#7838b0" stroke-width="0.17" textLength="17.90" lengthAdjust="spacingAndGlyphs">SPEN</text>
<text x="4.80" y="213.38" font-size="7.6" font-style="italic" fill="#1c1c1c" stroke="#1c1c1c" stroke-width="0.17" textLength="25.20" lengthAdjust="spacingAndGlyphs">PRDM1</text>
<text x="11.60" y="221.81" font-size="7.6" font-style="italic" fill="#1c1c1c" stroke="#1c1c1c" stroke-width="0.17" textLength="18.40" lengthAdjust="spacingAndGlyphs">SGK1</text>
<text x="13.20" y="230.24" font-size="7.6" font-style="italic" fill="#1c1c1c" stroke="#1c1c1c" stroke-width="0.17" textLength="16.80" lengthAdjust="spacingAndGlyphs">TP53</text>
<text x="6.10" y="238.67" font-size="7.6" font-style="italic" fill="#1c1c1c" stroke="#1c1c1c" stroke-width="0.17" textLength="23.90" lengthAdjust="spacingAndGlyphs">PIK3R1</text>
<text x="12.10" y="247.10" font-size="7.6" font-style="italic" fill="#1c1c1c" stroke="#1c1c1c" stroke-width="0.17" textLength="17.90" lengthAdjust="spacingAndGlyphs">PIM1</text>
<text x="13.70" y="255.53" font-size="7.6" font-style="italic" fill="#1c1c1c" stroke="#1c1c1c" stroke-width="0.17" textLength="16.30" lengthAdjust="spacingAndGlyphs">B2M</text>
<text x="7.30" y="263.96" font-size="7.6" font-style="italic" fill="#1c1c1c" stroke="#1c1c1c" stroke-width="0.17" textLength="22.70" lengthAdjust="spacingAndGlyphs">SOCS1</text>
<text x="6.10" y="272.39" font-size="7.6" font-style="italic" fill="#1c1c1c" stroke="#1c1c1c" stroke-width="0.17" textLength="23.90" lengthAdjust="spacingAndGlyphs">GNA13</text>
<text x="12.10" y="280.82" font-size="7.6" font-style="italic" fill="#a5a5a5" stroke="#a5a5a5" stroke-width="0.17" textLength="17.90" lengthAdjust="spacingAndGlyphs">BRAF</text>
<text x="12.90" y="289.25" font-size="7.6" font-style="italic" fill="#1c1c1c" stroke="#1c1c1c" stroke-width="0.17" textLength="17.10" lengthAdjust="spacingAndGlyphs">BCL6</text>
<text x="13.20" y="297.68" font-size="7.6" font-style="italic" fill="#1c1c1c" stroke="#1c1c1c" stroke-width="0.17" textLength="16.80" lengthAdjust="spacingAndGlyphs">EBF1</text>
<text x="6.50" y="306.11" font-size="7.6" font-style="italic" fill="#1c1c1c" stroke="#1c1c1c" stroke-width="0.17" textLength="23.50" lengthAdjust="spacingAndGlyphs">FOXO1</text>
<text x="8.90" y="314.54" font-size="7.6" font-style="italic" fill="#1c1c1c" stroke="#1c1c1c" stroke-width="0.17" textLength="21.10" lengthAdjust="spacingAndGlyphs">P2RY8</text>
<text x="12.90" y="322.97" font-size="7.6" font-style="italic" fill="#1c1c1c" stroke="#1c1c1c" stroke-width="0.17" textLength="17.10" lengthAdjust="spacingAndGlyphs">PAX5</text>
<text x="8.10" y="331.40" font-size="7.6" font-style="italic" fill="#1c1c1c" stroke="#1c1c1c" stroke-width="0.17" textLength="21.90" lengthAdjust="spacingAndGlyphs">PTPN1</text>
<text x="7.30" y="339.83" font-size="7.6" font-style="italic" fill="#1c1c1c" stroke="#1c1c1c" stroke-width="0.17" textLength="22.70" lengthAdjust="spacingAndGlyphs">BCL7A</text>
<text x="8.90" y="348.26" font-size="7.6" font-style="italic" fill="#1c1c1c" stroke="#1c1c1c" stroke-width="0.17" textLength="21.10" lengthAdjust="spacingAndGlyphs">TRAF3</text>
<text x="6.10" y="356.69" font-size="7.6" font-style="italic" fill="#1c1c1c" stroke="#1c1c1c" stroke-width="0.17" textLength="23.90" lengthAdjust="spacingAndGlyphs">CCND1</text>
<text transform="translate(37.61,365.6) rotate(90)" font-size="7.15" fill="#1a1a1a" stroke="#1a1a1a" stroke-width="0.2">P.MZL1</text>
<text transform="translate(46.64,365.6) rotate(90)" font-size="7.15" fill="#1a1a1a" stroke="#1a1a1a" stroke-width="0.2">P.MZL2</text>
<text transform="translate(55.67,365.6) rotate(90)" font-size="7.15" fill="#1a1a1a" stroke="#1a1a1a" stroke-width="0.2">P.MZL3</text>
<text transform="translate(64.70,365.6) rotate(90)" font-size="7.15" fill="#1a1a1a" stroke="#1a1a1a" stroke-width="0.2">P.MZL4</text>
<text transform="translate(73.73,365.6) rotate(90)" font-size="7.15" fill="#1a1a1a" stroke="#1a1a1a" stroke-width="0.2">P.MZL5</text>
<text transform="translate(82.76,365.6) rotate(90)" font-size="7.15" fill="#1a1a1a" stroke="#1a1a1a" stroke-width="0.2">P.MZL6</text>
<text transform="translate(91.79,365.6) rotate(90)" font-size="7.15" fill="#1a1a1a" stroke="#1a1a1a" stroke-width="0.2">P.MZL7</text>
<text transform="translate(100.81,365.6) rotate(90)" font-size="7.15" fill="#1a1a1a" stroke="#1a1a1a" stroke-width="0.2">P.MZL8</text>
<text transform="translate(109.84,365.6) rotate(90)" font-size="7.15" fill="#1a1a1a" stroke="#1a1a1a" stroke-width="0.2">P.MZL9</text>
<text transform="translate(118.87,365.6) rotate(90)" font-size="7.15" fill="#1a1a1a" stroke="#1a1a1a" stroke-width="0.2">P.MZL10</text>
<text transform="translate(127.90,365.6) rotate(90)" font-size="7.15" fill="#1a1a1a" stroke="#1a1a1a" stroke-width="0.2">P.MZL11</text>
<text transform="translate(136.93,365.6) rotate(90)" font-size="7.15" fill="#1a1a1a" stroke="#1a1a1a" stroke-width="0.2">P.MZL12</text>
<text transform="translate(145.96,365.6) rotate(90)" font-size="7.15" fill="#1a1a1a" stroke="#1a1a1a" stroke-width="0.2">P.MZL13</text>
<text transform="translate(154.99,365.6) rotate(90)" font-size="7.15" fill="#1a1a1a" stroke="#1a1a1a" stroke-width="0.2">P.MZL14</text>
<text transform="translate(164.01,365.6) rotate(90)" font-size="7.15" fill="#1a1a1a" stroke="#1a1a1a" stroke-width="0.2">P.MZL15</text>
<text transform="translate(173.04,365.6) rotate(90)" font-size="7.15" fill="#1a1a1a" stroke="#1a1a1a" stroke-width="0.2">P.MZL16</text>
<text transform="translate(182.07,365.6) rotate(90)" font-size="7.15" fill="#1a1a1a" stroke="#1a1a1a" stroke-width="0.2">P.MZL17</text>
<text transform="translate(191.10,365.6) rotate(90)" font-size="7.15" fill="#1a1a1a" stroke="#1a1a1a" stroke-width="0.2">P.MZL18</text>
<text transform="translate(200.13,365.6) rotate(90)" font-size="7.15" fill="#1a1a1a" stroke="#1a1a1a" stroke-width="0.2">P.MZL19</text>
<text transform="translate(209.16,365.6) rotate(90)" font-size="7.15" fill="#1a1a1a" stroke="#1a1a1a" stroke-width="0.2">P.MZL20</text>
<text transform="translate(218.19,365.6) rotate(90)" font-size="7.15" fill="#1a1a1a" stroke="#1a1a1a" stroke-width="0.2">P.MZL21</text>
<text transform="translate(227.21,365.6) rotate(90)" font-size="7.15" fill="#1a1a1a" stroke="#1a1a1a" stroke-width="0.2">P.MZL22</text>
<text transform="translate(236.24,365.6) rotate(90)" font-size="7.15" fill="#1a1a1a" stroke="#1a1a1a" stroke-width="0.2">P.MZL23</text>
<text transform="translate(245.27,365.6) rotate(90)" font-size="7.15" fill="#1a1a1a" stroke="#1a1a1a" stroke-width="0.2">P.MZL24</text>
<text transform="translate(254.30,365.6) rotate(90)" font-size="7.15" fill="#1a1a1a" stroke="#1a1a1a" stroke-width="0.2">P.MZL25</text>
<text transform="translate(263.33,365.6) rotate(90)" font-size="7.15" fill="#1a1a1a" stroke="#1a1a1a" stroke-width="0.2">P.MZL26</text>
<text transform="translate(272.36,365.6) rotate(90)" font-size="7.15" fill="#1a1a1a" stroke="#1a1a1a" stroke-width="0.2">P.MZL27</text>
<text transform="translate(281.39,365.6) rotate(90)" font-size="7.15" fill="#1a1a1a" stroke="#1a1a1a" stroke-width="0.2">P.MZL28</text>
<text transform="translate(293.64,365.6) rotate(90)" font-size="7.15" fill="#1a1a1a" stroke="#1a1a1a" stroke-width="0.2">LyG1</text>
<text transform="translate(302.73,365.6) rotate(90)" font-size="7.15" fill="#1a1a1a" stroke="#1a1a1a" stroke-width="0.2">LyG2</text>
<text transform="translate(311.81,365.6) rotate(90)" font-size="7.15" fill="#1a1a1a" stroke="#1a1a1a" stroke-width="0.2">LyG3</text>
<text transform="translate(320.90,365.6) rotate(90)" font-size="7.15" fill="#1a1a1a" stroke="#1a1a1a" stroke-width="0.2">LyG4</text>
<text transform="translate(329.99,365.6) rotate(90)" font-size="7.15" fill="#1a1a1a" stroke="#1a1a1a" stroke-width="0.2">LyG5</text>
<text transform="translate(339.07,365.6) rotate(90)" font-size="7.15" fill="#1a1a1a" stroke="#1a1a1a" stroke-width="0.2">LyG6</text>
<text transform="translate(348.16,365.6) rotate(90)" font-size="7.15" fill="#1a1a1a" stroke="#1a1a1a" stroke-width="0.2">LyG7</text>
<text transform="translate(359.59,365.6) rotate(90)" font-size="7.15" fill="#1a1a1a" stroke="#1a1a1a" stroke-width="0.2">DL1</text>
<text transform="translate(368.58,365.6) rotate(90)" font-size="7.15" fill="#1a1a1a" stroke="#1a1a1a" stroke-width="0.2">DL2</text>
<text transform="translate(377.56,365.6) rotate(90)" font-size="7.15" fill="#1a1a1a" stroke="#1a1a1a" stroke-width="0.2">DL3</text>
<text transform="translate(386.55,365.6) rotate(90)" font-size="7.15" fill="#1a1a1a" stroke="#1a1a1a" stroke-width="0.2">DL4</text>
<text transform="translate(395.54,365.6) rotate(90)" font-size="7.15" fill="#1a1a1a" stroke="#1a1a1a" stroke-width="0.2">DL5</text>
<text transform="translate(404.52,365.6) rotate(90)" font-size="7.15" fill="#1a1a1a" stroke="#1a1a1a" stroke-width="0.2">DL6</text>
<text transform="translate(413.51,365.6) rotate(90)" font-size="7.15" fill="#1a1a1a" stroke="#1a1a1a" stroke-width="0.2">DL7</text>
<text transform="translate(422.49,365.6) rotate(90)" font-size="7.15" fill="#1a1a1a" stroke="#1a1a1a" stroke-width="0.2">DL8</text>
<text transform="translate(431.48,365.6) rotate(90)" font-size="7.15" fill="#1a1a1a" stroke="#1a1a1a" stroke-width="0.2">DL9</text>
<text transform="translate(440.46,365.6) rotate(90)" font-size="7.15" fill="#1a1a1a" stroke="#1a1a1a" stroke-width="0.2">DL10</text>
<text transform="translate(449.45,365.6) rotate(90)" font-size="7.15" fill="#1a1a1a" stroke="#1a1a1a" stroke-width="0.2">DL11</text>
<text transform="translate(458.44,365.6) rotate(90)" font-size="7.15" fill="#1a1a1a" stroke="#1a1a1a" stroke-width="0.2">DL12</text>
<text transform="translate(467.42,365.6) rotate(90)" font-size="7.15" fill="#1a1a1a" stroke="#1a1a1a" stroke-width="0.2">DL13</text>
<text transform="translate(476.41,365.6) rotate(90)" font-size="7.15" fill="#1a1a1a" stroke="#1a1a1a" stroke-width="0.2">DL14</text>
<text transform="translate(488.50,365.6) rotate(90)" font-size="7.15" fill="#1a1a1a" stroke="#1a1a1a" stroke-width="0.2">FL1</text>
<text transform="translate(500.60,365.6) rotate(90)" font-size="7.15" fill="#1a1a1a" stroke="#1a1a1a" stroke-width="0.2">FH1</text>
<text transform="translate(509.61,365.6) rotate(90)" font-size="7.15" fill="#1a1a1a" stroke="#1a1a1a" stroke-width="0.2">FH2</text>
<text transform="translate(518.62,365.6) rotate(90)" font-size="7.15" fill="#1a1a1a" stroke="#1a1a1a" stroke-width="0.2">FH3</text>
<text transform="translate(527.62,365.6) rotate(90)" font-size="7.15" fill="#1a1a1a" stroke="#1a1a1a" stroke-width="0.2">FH4</text>
<text transform="translate(536.63,365.6) rotate(90)" font-size="7.15" fill="#1a1a1a" stroke="#1a1a1a" stroke-width="0.2">FH5</text>
<text transform="translate(545.63,365.6) rotate(90)" font-size="7.15" fill="#1a1a1a" stroke="#1a1a1a" stroke-width="0.2">FH6</text>
<text transform="translate(554.64,365.6) rotate(90)" font-size="7.15" fill="#1a1a1a" stroke="#1a1a1a" stroke-width="0.2">FH7</text>
<text transform="translate(563.65,365.6) rotate(90)" font-size="7.15" fill="#1a1a1a" stroke="#1a1a1a" stroke-width="0.2">FH8</text>
<text transform="translate(572.65,365.6) rotate(90)" font-size="7.15" fill="#1a1a1a" stroke="#1a1a1a" stroke-width="0.2">FH9</text>
<text transform="translate(581.66,365.6) rotate(90)" font-size="7.15" fill="#1a1a1a" stroke="#1a1a1a" stroke-width="0.2">FH10</text>
<text transform="translate(590.67,365.6) rotate(90)" font-size="7.15" fill="#1a1a1a" stroke="#1a1a1a" stroke-width="0.2">FH11</text>
<text transform="translate(599.67,365.6) rotate(90)" font-size="7.15" fill="#1a1a1a" stroke="#1a1a1a" stroke-width="0.2">FH12</text>
<text transform="translate(608.68,365.6) rotate(90)" font-size="7.15" fill="#1a1a1a" stroke="#1a1a1a" stroke-width="0.2">NLH1</text>
<text transform="translate(617.68,365.6) rotate(90)" font-size="7.15" fill="#1a1a1a" stroke="#1a1a1a" stroke-width="0.2">NLH2</text>
<text transform="translate(626.69,365.6) rotate(90)" font-size="7.15" fill="#1a1a1a" stroke="#1a1a1a" stroke-width="0.2">LP1</text>
<text transform="translate(635.70,365.6) rotate(90)" font-size="7.15" fill="#1a1a1a" stroke="#1a1a1a" stroke-width="0.2">LP2</text>
<text transform="translate(647.33,365.6) rotate(90)" font-size="7.15" fill="#1a1a1a" stroke="#1a1a1a" stroke-width="0.2">MCL1</text>
<text transform="translate(656.38,365.6) rotate(90)" font-size="7.15" fill="#1a1a1a" stroke="#1a1a1a" stroke-width="0.2">MCL2</text>
<text transform="translate(668.52,365.6) rotate(90)" font-size="7.15" fill="#1a1a1a" stroke="#1a1a1a" stroke-width="0.2">CLL1</text>
<text transform="translate(677.17,365.6) rotate(90)" font-size="7.15" fill="#1a1a1a" stroke="#1a1a1a" stroke-width="0.2">CLL2</text>
<rect x="81.80" y="400.10" width="7" height="7" fill="#9b9b9b"/>
<text x="92.60" y="405.90" font-size="8.3" fill="#222" stroke="#222" stroke-width="0.15" textLength="56.20" lengthAdjust="spacingAndGlyphs">NK-κB pathway</text>
<rect x="81.80" y="410.10" width="7" height="7" fill="#ffb000"/>
<text x="92.60" y="416.40" font-size="8.3" fill="#222" stroke="#222" stroke-width="0.15" textLength="76.20" lengthAdjust="spacingAndGlyphs">Chromatin modifiers</text>
<rect x="81.80" y="422.00" width="7" height="7" fill="#6a1f9e"/>
<text x="93.30" y="428.60" font-size="8.3" fill="#222" stroke="#222" stroke-width="0.15" textLength="56.50" lengthAdjust="spacingAndGlyphs">NOTCH pathway</text>
<rect x="183.9" y="399.20" width="8" height="7.6" fill="#bde6de"/>
<text x="193.9" y="405.50" font-size="8.3" fill="#222" stroke="#222" stroke-width="0.15" textLength="49.00" lengthAdjust="spacingAndGlyphs">In-frame InDel</text>
<rect x="183.9" y="410.40" width="8" height="7.6" fill="#6c86fb"/>
<text x="193.9" y="416.90" font-size="8.3" fill="#222" stroke="#222" stroke-width="0.15" textLength="32.90" lengthAdjust="spacingAndGlyphs">Nonsense</text>
<rect x="183.9" y="421.20" width="8" height="7.6" fill="#0d3f35"/>
<text x="193.9" y="427.60" font-size="8.3" fill="#222" stroke="#222" stroke-width="0.15" textLength="35.40" lengthAdjust="spacingAndGlyphs">Splice site</text>
<rect x="183.9" y="435.10" width="8" height="7.6" fill="#1f9a12"/>
<text x="193.9" y="442.30" font-size="8.3" fill="#222" stroke="#222" stroke-width="0.15" textLength="58.90" lengthAdjust="spacingAndGlyphs">Frameshift InDel</text>
<defs><linearGradient id="g1" x1="0" x2="1" y1="0" y2="0"><stop offset="0" stop-color="#f8d4e0"/><stop offset="0.5" stop-color="#ff6a7a"/><stop offset="1" stop-color="#ff0000"/></linearGradient></defs>
<rect x="301.5" y="418.2" width="76.7" height="12.2" fill="url(#g1)"/>
<rect x="378.2" y="418.2" width="19.1" height="12.2" fill="#6e0010"/>
<line x1="301.5" y1="430.6" x2="397.3" y2="430.6" stroke="#333" stroke-width="0.8"/>
<line x1="301.6" y1="418.2" x2="301.6" y2="430.6" stroke="#555" stroke-width="0.6"/>
<line x1="397.2" y1="418.2" x2="397.2" y2="430.6" stroke="#555" stroke-width="0.6"/>
<line x1="301.50" y1="430.4" x2="301.50" y2="434.4" stroke="#333" stroke-width="0.8"/>
<text x="301.50" y="446.2" font-size="7.4" fill="#111" text-anchor="middle">0</text>
<line x1="320.66" y1="430.4" x2="320.66" y2="434.4" stroke="#333" stroke-width="0.8"/>
<text x="320.66" y="446.2" font-size="7.4" fill="#111" text-anchor="middle">0.2</text>
<line x1="339.82" y1="430.4" x2="339.82" y2="434.4" stroke="#333" stroke-width="0.8"/>
<text x="339.82" y="446.2" font-size="7.4" fill="#111" text-anchor="middle">0.4</text>
<line x1="358.98" y1="430.4" x2="358.98" y2="434.4" stroke="#333" stroke-width="0.8"/>
<text x="358.98" y="446.2" font-size="7.4" fill="#111" text-anchor="middle">0.6</text>
<line x1="378.14" y1="430.4" x2="378.14" y2="434.4" stroke="#333" stroke-width="0.8"/>
<text x="378.14" y="446.2" font-size="7.4" fill="#111" text-anchor="middle">0.8</text>
<line x1="397.30" y1="430.4" x2="397.30" y2="434.4" stroke="#333" stroke-width="0.8"/>
<text x="397.30" y="446.2" font-size="7.4" fill="#111" text-anchor="middle">1</text>
<text x="314.7" y="405.0" font-size="7.5" fill="#1a1a1a" textLength="66.6" lengthAdjust="spacingAndGlyphs">Impact of function</text>
<text x="307.8" y="413.2" font-size="7.5" fill="#1a1a1a" textLength="80.5" lengthAdjust="spacingAndGlyphs">(missense of function)</text>
<text x="263.9" y="429.8" font-size="6.7" font-weight="bold" fill="#f59ab5" textLength="30.3" lengthAdjust="spacingAndGlyphs">Tolerated</text>
<text x="401.8" y="427.2" font-size="6.9" font-weight="bold" fill="#841419" stroke="#841419" stroke-width="0.1" textLength="33.5" lengthAdjust="spacingAndGlyphs">Damaging</text>
<ellipse cx="28.3" cy="0.3" rx="1.0" ry="0.7" fill="#d8d8d8"/>
</svg></body></html>
